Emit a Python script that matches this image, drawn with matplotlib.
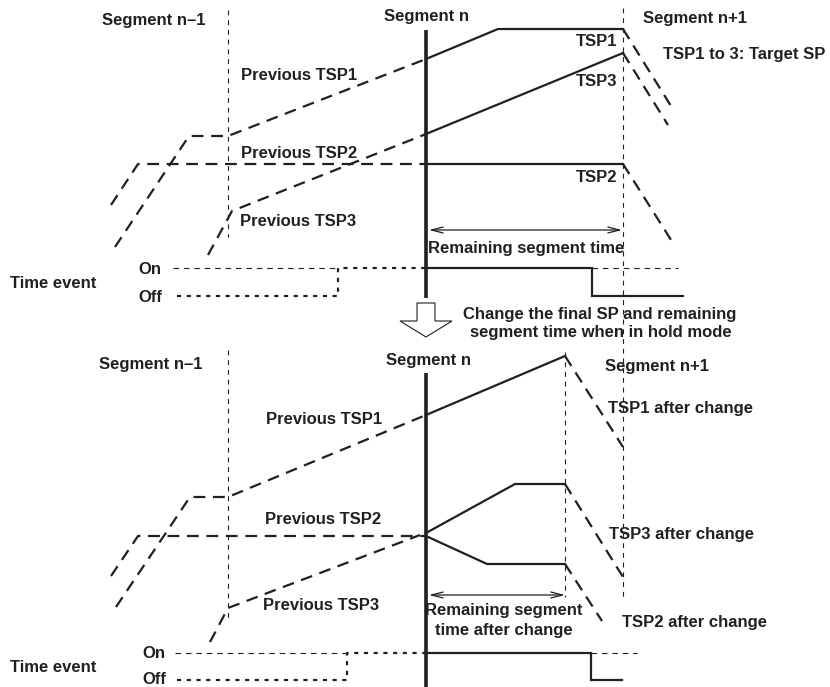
import numpy as np
import matplotlib as mpl
mpl.use('Agg')
import matplotlib.pyplot as plt
from matplotlib.patches import Polygon

plt.rc('font', family='Liberation Sans', weight='bold')
mpl.rcParams.update({'font.size': 12, 'lines.scale_dashes': False})

INK = '#231f20'

# ---- diagram geometry (pixel units, y grows downward)
# top panel: before change
top_tsp1_prev = ([115, 189, 228, 426], [247, 136, 136, 59])
top_tsp1_now  = ([426, 498, 623], [59, 29, 29])
top_tsp1_next = ([623, 671], [29, 106])
top_tsp2_prev = ([111, 138, 426], [205, 164, 164])
top_tsp2_now  = ([426, 623], [164, 164])
top_tsp2_next = ([623, 673], [164, 243])
top_tsp3_prev = ([208, 232, 426], [255, 211, 134])
top_tsp3_now  = ([426, 623], [134, 53])
top_tsp3_next = ([623, 668], [53, 125])
top_event_prev = ([177, 338, 338, 426], [296, 296, 268, 268])
top_event_now  = ([426, 592, 592, 683], [268, 268, 296, 296])
top_on_ref = [([173, 338], [268, 268]), ([592, 678], [268, 268])]

# bottom panel: after change
bot_tsp1_prev = ([116, 190, 228, 426], [607, 497, 497, 415])
bot_tsp1_now  = ([426, 565], [415, 356])
bot_tsp1_next = ([565, 623], [356, 447])
bot_tsp2_prev = ([111, 138, 426], [576, 536, 536])
bot_tsp2_now  = ([426, 487, 565], [536, 564, 564])
bot_tsp2_next = ([565, 602], [564, 621])
bot_tsp3_prev = ([210, 228, 420], [642, 608, 535])
bot_tsp3_now  = ([426, 515, 565], [533, 484, 484])
bot_tsp3_next = ([565, 623], [484, 577])
bot_event_prev = ([177, 347, 347, 426], [680, 680, 653, 653])
bot_event_now  = ([426, 591, 591, 622], [653, 653, 680, 680])
bot_on_ref = [([175, 347], [653, 653]), ([591, 637], [653, 653])]

# vertical segment boundaries: (x, y_top, y_bottom)
thin_bounds = [(228, 10, 237), (623, 8, 597), (228, 350, 622), (565, 352, 597)]
seg_n_lines = [(426, 30, 298), (426, 373, 687)]

# double arrows for remaining time: (x0, x1, y)
time_arrows = [(429, 622, 230), (429, 565, 595)]

# hollow "change" arrow outline
hollow_x = [417, 435, 435, 452, 426, 400, 417]
hollow_y = [303, 303, 321, 321, 337, 321, 321]

# labels: (text, x, y, ha)
labels = [
    ('Segment n\u20131', 205, 20, 'right'),
    ('Segment n', 426, 17, 'center'),
    ('Segment n+1', 643, 19, 'left'),
    ('TSP1 to 3: Target SP', 663, 54, 'left'),
    ('Previous TSP1', 241, 76, 'left'),
    ('Previous TSP2', 241, 153, 'left'),
    ('Previous TSP3', 240, 222, 'left'),
    ('TSP1', 617, 42, 'right'),
    ('TSP3', 617, 82, 'right'),
    ('TSP2', 617, 177, 'right'),
    ('Remaining segment time', 526, 249, 'center'),
    ('On', 138, 269, 'left'),
    ('Off', 138, 297, 'left'),
    ('Time event', 10, 283, 'left'),
    ('Change the final SP and remaining', 600, 314, 'center'),
    ('segment time when in hold mode', 601, 333, 'center'),
    ('Segment n\u20131', 202, 365, 'right'),
    ('Segment n', 428, 360, 'center'),
    ('Segment n+1', 605, 367, 'left'),
    ('Previous TSP1', 266, 420, 'left'),
    ('TSP1 after change', 608, 409, 'left'),
    ('Previous TSP2', 265, 519, 'left'),
    ('TSP3 after change', 609, 534, 'left'),
    ('Previous TSP3', 263, 606, 'left'),
    ('TSP2 after change', 622, 622, 'left'),
    ('Remaining segment', 504, 610, 'center'),
    ('time after change', 504, 630, 'center'),
    ('On', 142, 653, 'left'),
    ('Time event', 10, 667, 'left'),
    ('Off', 142, 680, 'left'),
]

fig = plt.figure(figsize=(8.3, 6.87), dpi=100)
ax = fig.add_axes([0, 0, 1, 1])
ax.set_xlim(0, 830)
ax.set_ylim(687, 0)
ax.axis('off')

big_dash = dict(color=INK, lw=1.6, dashes=(8.5, 5.5), solid_capstyle='butt', dash_capstyle='butt')
solid = dict(color=INK, lw=1.6, solid_joinstyle='miter')
dotted = dict(color=INK, lw=1.6, dashes=(3.0, 4.0), dash_capstyle='butt')
thin = dict(color=INK, lw=0.8, dashes=(3.5, 3.5))

for path in [top_tsp1_prev, top_tsp1_next, top_tsp2_prev, top_tsp2_next, top_tsp3_prev,
             top_tsp3_next, bot_tsp1_prev, bot_tsp1_next, bot_tsp2_prev, bot_tsp2_next,
             bot_tsp3_prev, bot_tsp3_next]:
    ax.plot(*path, **big_dash)

for path in [top_tsp1_now, top_tsp2_now, top_tsp3_now, bot_tsp1_now, bot_tsp2_now,
             bot_tsp3_now, top_event_now, bot_event_now]:
    ax.plot(*path, **solid)

for path in [top_event_prev, bot_event_prev]:
    ax.plot(*path, **dotted)

for path in top_on_ref + bot_on_ref:
    ax.plot(*path, color=INK, lw=0.8, dashes=(4, 3.5))

for x, y0, y1 in thin_bounds:
    ax.plot([x, x], [y0, y1], **thin)

for x, y0, y1 in seg_n_lines:
    ax.plot([x, x], [y0, y1], color=INK, lw=2.6, solid_capstyle='butt')

for x0, x1, y in time_arrows:
    ax.annotate('', xy=(x1, y), xytext=(x0, y),
                arrowprops=dict(arrowstyle='<->,head_length=0.7,head_width=0.18',
                                color=INK, lw=0.9, shrinkA=0, shrinkB=0))

ax.add_patch(Polygon(np.column_stack([hollow_x, hollow_y]), closed=True,
                     facecolor='white', edgecolor=INK, lw=0.8))

for txt, x, y, ha in labels:
    ax.text(x, y, txt, ha=ha, va='center', color=INK, fontsize=12, fontweight='bold')

fig.savefig('out.png', dpi=100)
